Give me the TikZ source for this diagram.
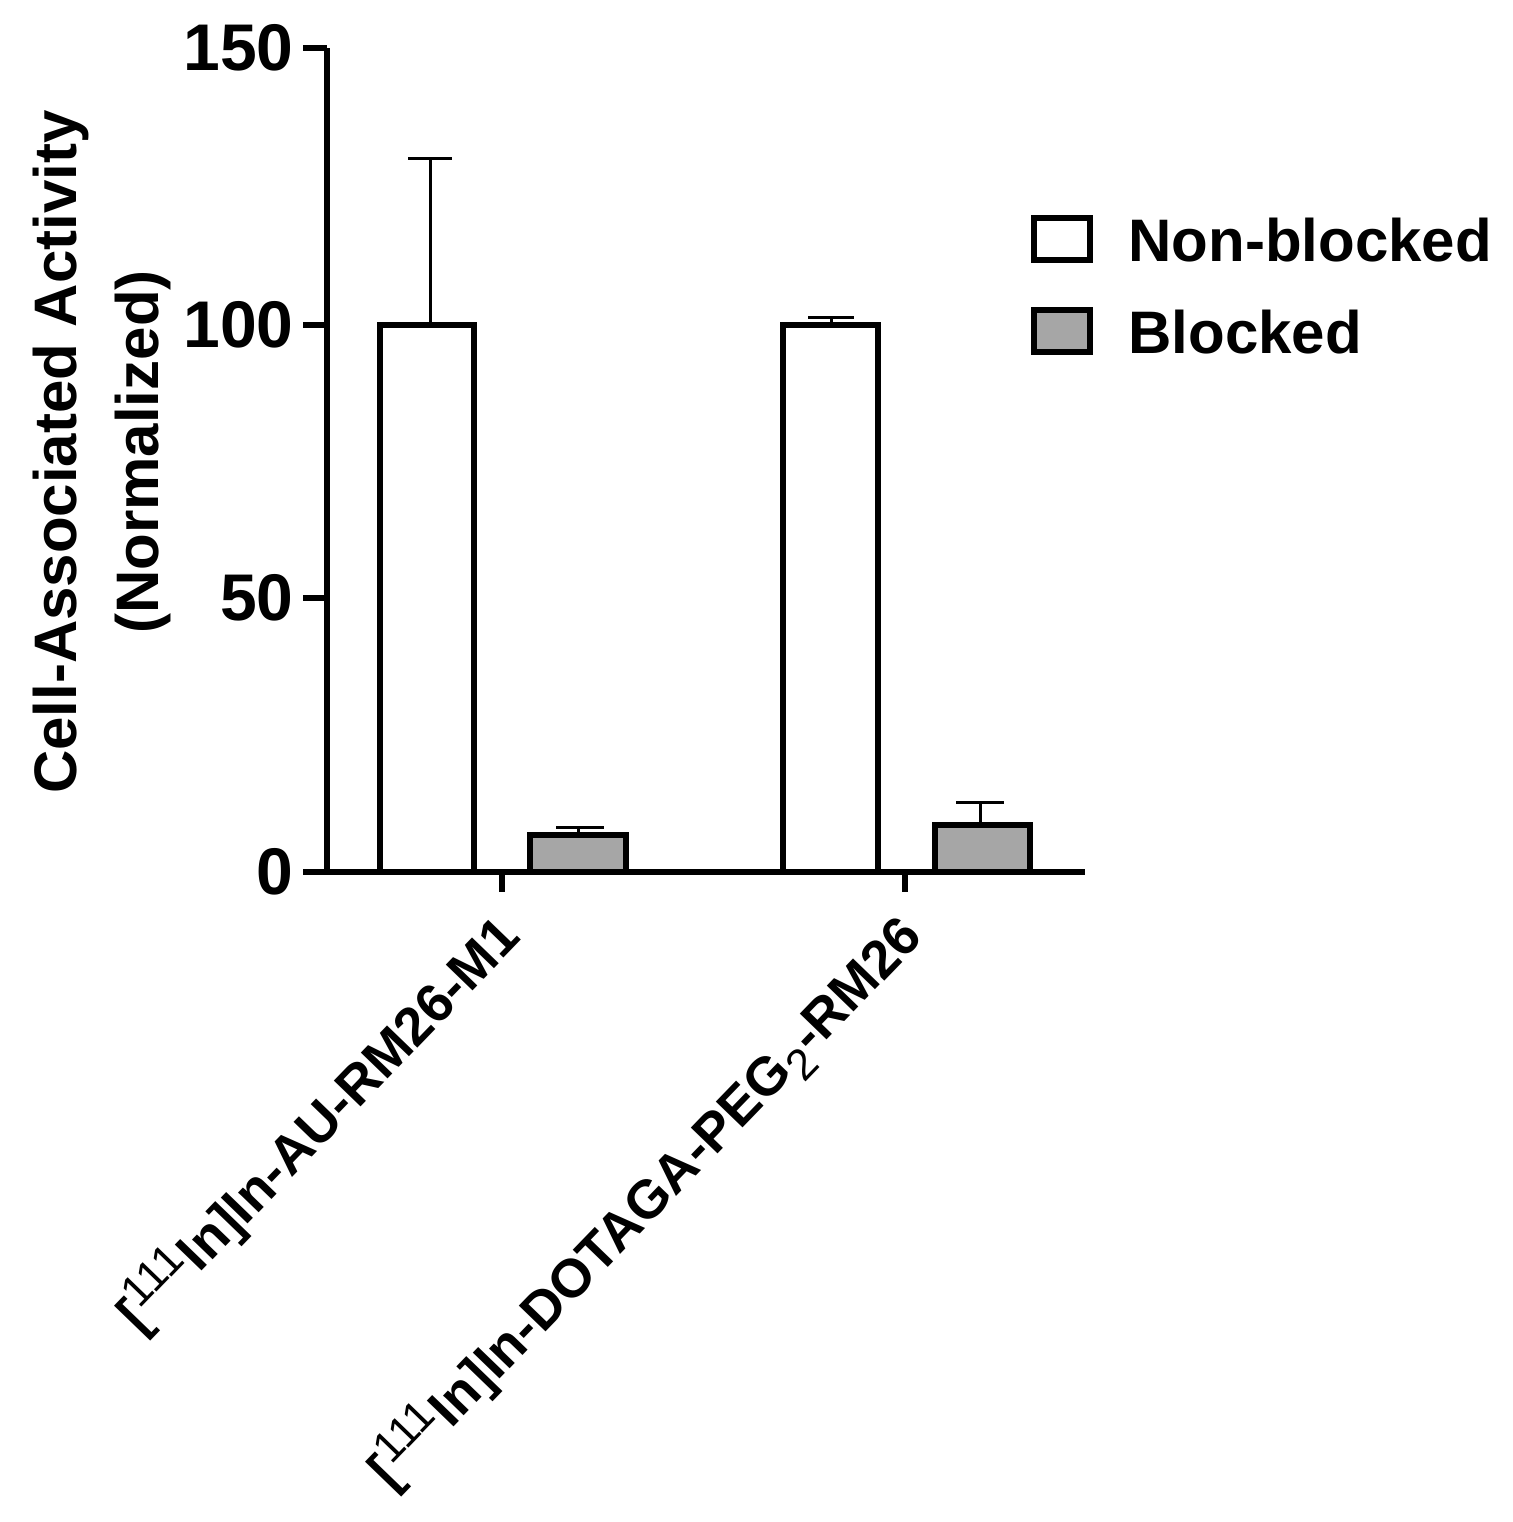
\documentclass[tikz,border=0pt]{standalone}
\usepackage{fontspec}
\setmainfont{Liberation Sans}
\begin{document}
\begin{tikzpicture}[x=0.5pt,y=-0.5pt,
  ax/.style={line width=3pt},
  bar/.style={line width=3pt,draw=black},
  eb/.style={line width=1.5pt},
  lab/.style={font=\fontsize{30}{33}\selectfont\bfseries,inner sep=0pt},
  xlab/.style={font=\fontsize{27}{30}\selectfont\bfseries,inner sep=0pt},
  tick/.style={font=\fontsize{33}{36}\selectfont\bfseries,inner sep=0pt}]
\useasboundingbox (0,0) rectangle (1512,1522);
% bars
\draw[bar,fill=white] (380,872) rectangle (474,325);
\draw[bar,fill=gray!70] (530,872) rectangle (626,835);
\draw[bar,fill=white] (783,872) rectangle (878,325);
\draw[bar,fill=gray!70] (935,872) rectangle (1030,825);
% error bars
\draw[eb] (430,325) -- (430,158) (408,158) -- (452,158);
\draw[eb] (578,835) -- (578,827) (556,827) -- (604,827);
\draw[eb] (831,325) -- (831,317) (808,317) -- (854,317);
\draw[eb] (980,825) -- (980,802) (956,802) -- (1004,802);
% axes
\draw[ax] (327,48) -- (327,872);
\draw[ax] (303,872) -- (1085,872);
\foreach \y/\t in {48/150,325/100,598/50,872/0}{
  \draw[ax] (303,\y) -- (327,\y);
  \node[tick,anchor=east] (t\t) at (294,\y) {\t};
}
\draw[ax] (502,872) -- (502,892);
\draw[ax] (905,872) -- (905,892);
% y label
\node[lab,rotate=90,align=center] (ylab) at (102,452) {Cell-Associated Activity\\[8pt](Normalized)};
% x labels
\node[xlab,rotate=46,anchor=north east] (x1) at (488,905) {[\textsuperscript{\normalfont\fontsize{22}{24}\selectfont 111}In]In-AU-RM26-M1};
\node[xlab,rotate=46,anchor=north east] (x2) at (890,905) {[\textsuperscript{\normalfont\fontsize{22}{24}\selectfont 111}In]In-DOTAGA-PEG\textsubscript{\normalfont\fontsize{22}{24}\selectfont 2}-RM26};
% legend
\draw[bar,fill=white] (1034,218) rectangle (1090,260);
\draw[bar,fill=gray!70] (1034,310) rectangle (1090,352);
\node[lab,anchor=west] (l1) at (1128,240) {Non-blocked};
\node[lab,anchor=west] (l2) at (1128,332) {Blocked};
\end{tikzpicture}
\end{document}
